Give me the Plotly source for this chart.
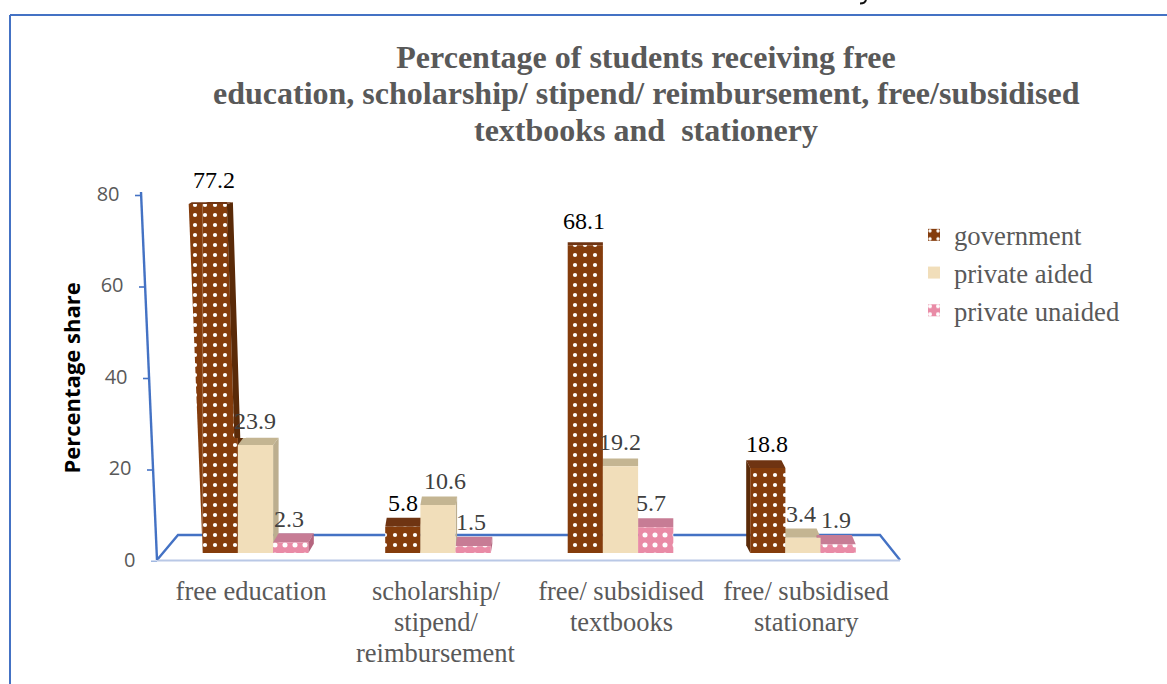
import plotly.graph_objects as go

W, H = 1167, 684
categories = ["free education", "scholarship/<br>stipend/<br>reimbursement",
              "free/ subsidised<br>textbooks", "free/ subsidised<br>stationary"]
government = [77.2, 5.8, 68.1, 18.8]
private_aided = [23.9, 10.6, 19.2, 3.4]
private_unaided = [2.3, 1.5, 5.7, 1.9]
y_ticks = [0, 20, 40, 60, 80]
title_lines = ["Percentage of students receiving free",
               "education, scholarship/ stipend/ reimbursement, free/subsidised",
               "textbooks and  stationery"]

SERIF = "Liberation Serif"
SANS = "Open Sans"
BLUE = "#4472c4"
BASE_PX, PX_PER_UNIT = 553.0, 4.52
AXIS0_PX, AXIS_PX_PER_UNIT = 561.5, 4.575
GROUP_X0_PX, GROUP_PX = 255.5, 182.5
BAR_PX = 35.2
BOTTOM_FRAC = 1 - AXIS0_PX / H


def xu(px):
    return (px - GROUP_X0_PX) / GROUP_PX


def dyu(px):
    return px / PX_PER_UNIT


def pxx(px):
    return px / W


def pxy(py):
    return 1 - py / H


x = list(range(len(categories)))
series = [
    ("government", government, "#843c0c", "#5a2a08", "#6f3412", ".", "#ffffff", 10, 0.14),
    ("private aided", private_aided, "#f1deba", "#bcae8f", "#c4b592", "", "#ffffff", 8, 0.2),
    ("private unaided", private_unaided, "#e98ba6", "#b5657f", "#c77c95", ".", "#ffffff", 10, 0.2),
]
group_side_dx = [5.5, 1.5, 0.0, -4.0]

fig = go.Figure()
shapes = []

# floor and wall of the 3D box
floor_back = f"M {pxx(157)},{pxy(560)} L {pxx(178)},{pxy(535)} L {pxx(880)},{pxy(535)} L {pxx(900)},{pxy(560)}"
shapes.append(dict(type="path", path=floor_back, xref="paper", yref="paper", line=dict(color=BLUE, width=2.4), layer="below"))
shapes.append(dict(type="line", xref="paper", yref="paper", x0=pxx(157), x1=pxx(900), y0=pxy(560.5), y1=pxy(560.5),
                   line=dict(color="#b9c8e6", width=2), layer="below"))
shapes.append(dict(type="line", xref="paper", yref="paper", x0=pxx(141), x1=pxx(157), y0=pxy(192), y1=pxy(560),
                   line=dict(color=BLUE, width=2.4), layer="below"))


def wall_x(tick):
    return 157 - 16 * tick / 80.0


for t in y_ticks:
    shapes.append(dict(type="line", xref="paper", yref="y2", x0=pxx(wall_x(t) - 6), x1=pxx(wall_x(t)), y0=t, y1=t,
                       line=dict(color=BLUE, width=1.6), layer="below"))

# frame
shapes.append(dict(type="line", xref="paper", yref="paper", x0=pxx(10), x1=1, y0=pxy(15), y1=pxy(15),
                   line=dict(color=BLUE, width=1.8), layer="below"))
shapes.append(dict(type="line", xref="paper", yref="paper", x0=pxx(10), x1=pxx(10), y0=pxy(15), y1=0,
                   line=dict(color=BLUE, width=2), layer="below"))

# small dark speck at the top edge of the picture (remnant of cropped content)
shapes.append(dict(type="path", xref="paper", yref="paper", layer="below", line=dict(color="#111111", width=2),
                   path=f"M {pxx(866)},{pxy(0)} Q {pxx(865)},{pxy(3.5)} {pxx(860)},{pxy(3.5)}"))

# bar top and side faces
for s_i, (name, vals, col, side, top, pat, fg, size, sol) in enumerate(series):
    for g, v in zip(x, vals):
        cx = GROUP_X0_PX + g * GROUP_PX + (s_i - 1) * BAR_PX
        l, r = cx - BAR_PX / 2, cx + BAR_PX / 2
        ddx = group_side_dx[g]
        ddy = 9.5 * (1 - v / 100)
        vb = v + dyu(ddy)
        shapes.append(dict(type="path", xref="x", yref="y", layer="below", line=dict(width=0), fillcolor=top,
                           path=f"M {xu(l)},{v} L {xu(r)},{v} L {xu(r + ddx)},{vb} L {xu(l + ddx)},{vb} Z"))
        if ddx > 0:
            shapes.append(dict(type="path", xref="x", yref="y", layer="below", line=dict(width=0), fillcolor=side,
                               path=f"M {xu(r)},0 L {xu(r)},{v} L {xu(r + ddx)},{vb} L {xu(r + ddx)},{dyu(ddy)} Z"))
        elif ddx < 0:
            shapes.append(dict(type="path", xref="x", yref="y", layer="below", line=dict(width=0), fillcolor=side,
                               path=f"M {xu(l)},0 L {xu(l)},{v} L {xu(l + ddx)},{vb} L {xu(l + ddx)},{dyu(ddy)} Z"))

for i, (name, vals, col, side, top, pat, fg, size, sol) in enumerate(series):
    marker = dict(color=col, line=dict(width=0))
    if pat:
        marker["pattern"] = dict(shape=pat, fgcolor=fg, bgcolor=col, size=size, solidity=sol, fillmode="replace")
    fig.add_trace(go.Bar(name=name, x=x, y=vals, marker=marker, legendgroup=name,
                         offsetgroup=str(i), hoverinfo="name+y"))

# perspective lean of the tallest bar (left wedge, and right-hand cut-back with side face)
v0 = government[0]
l0 = GROUP_X0_PX - 1.5 * BAR_PX
r0 = l0 + BAR_PX
lean_left, lean_right = 14.0 * v0 / 77.2, 11.0 * v0 / 77.2
v_cut = private_aided[0] + dyu(7)
frac = v_cut / v0
fig.add_trace(go.Scatter(
    x=[xu(l0), xu(l0 - lean_left), xu(l0), xu(l0)], y=[0, v0, v0, 0], mode="none", fill="toself",
    fillcolor="#843c0c", fillpattern=dict(shape=".", fgcolor="#ffffff", bgcolor="#843c0c", size=10, solidity=0.14, fillmode="replace"),
    showlegend=False, hoverinfo="skip"))
shapes.append(dict(type="path", xref="x", yref="y", layer="above", line=dict(width=0), fillcolor="#ffffff",
                   path=f"M {xu(r0 - lean_right)},{v0 + 1.5} L {xu(r0 + 8)},{v0 + 1.5} L {xu(r0 + 8)},{v_cut} L {xu(r0 - lean_right * frac)},{v_cut} Z"))
shapes.append(dict(type="path", xref="x", yref="y", layer="above", line=dict(width=0), fillcolor="#5a2a08",
                   path=f"M {xu(r0 - lean_right)},{v0} L {xu(r0 - lean_right + 6)},{v0 + 0.4} L {xu(r0 - lean_right * frac + 6)},{v_cut} L {xu(r0 - lean_right * frac)},{v_cut} Z"))
shapes.append(dict(type="path", xref="x", yref="y", layer="above", line=dict(width=0), fillcolor="#6f3412",
                   path=f"M {xu(l0 - lean_left)},{v0} L {xu(r0 - lean_right)},{v0} L {xu(r0 - lean_right + 6)},{v0 + 0.4} L {xu(l0 - lean_left + 3)},{v0 + 0.4} Z"))

# slanted y-axis tick labels
fig.add_trace(go.Scatter(
    x=[xu(wall_x(t) - 21.5) for t in y_ticks], y=y_ticks, yaxis="y2", mode="text", cliponaxis=False,
    text=[str(t) for t in y_ticks], textposition="middle left",
    textfont=dict(family=SANS, size=20, color="#595959"), showlegend=False, hoverinfo="skip"))

# value labels
label_dx = [[-6, 0, -1, -1], [-1, 7, -1, -2], [-2, -2, -5, -2]]
label_col = ["#000000", "#404040", "#404040"]
annotations = []
for i, (name, vals, *_rest) in enumerate(series):
    for g, v in zip(x, vals):
        annotations.append(dict(x=g + (i - 1) * BAR_PX / GROUP_PX, y=v, xref="x", yref="y", text=f"{v:.1f}",
                                showarrow=False, xshift=label_dx[i][g], yshift=24, yanchor="middle",
                                font=dict(family=SERIF, size=24, color=label_col[i])))
annotations.append(dict(x=pxx(70.5), y=pxy(378), xref="paper", yref="paper", text="<b>Percentage share</b>", textangle=-90,
                        xanchor="center", yanchor="middle",
                        showarrow=False, font=dict(family=SANS, size=22, color="#000000")))

# title lines 2 and 3 (tighter line spacing than a plain line break gives)
for line, y_px in zip(title_lines[1:], [93, 130]):
    annotations.append(dict(x=646 / W, y=pxy(y_px), xref="paper", yref="paper", text=f"<b>{line}</b>",
                            xanchor="center", yanchor="middle", showarrow=False,
                            font=dict(family=SERIF, size=32, color="#595959")))

# category labels: first line on the axis, further lines at the reference's tighter spacing
TICK_X0_PX, TICK_STEP_PX = 251.0, 185.0
tick_vals = [xu(TICK_X0_PX + g * TICK_STEP_PX) for g in x]
first_lines = [c.split("<br>")[0] for c in categories]
for g, c in zip(x, categories):
    for k, part in enumerate(c.split("<br>")[1:], start=1):
        annotations.append(dict(x=tick_vals[g], y=pxy(591 + 31 * k), xref="x", yref="paper", text=part,
                                xanchor="center", yanchor="middle", showarrow=False,
                                font=dict(family=SERIF, size=26.5, color="#595959")))

fig.update_layout(
    width=W, height=H, autosize=False, margin=dict(l=0, r=0, t=0, b=0),
    paper_bgcolor="white", plot_bgcolor="white",
    barmode="group", bargap=1 - 3 * BAR_PX / GROUP_PX, bargroupgap=0,
    title=dict(text=title_lines[0], x=646 / W, xanchor="center", y=pxy(57), yanchor="middle",
               font=dict(family=SERIF, size=32, color="#595959", weight="bold")),
    xaxis=dict(range=[xu(0), xu(W)], domain=[0, 1], tickmode="array", tickvals=tick_vals, ticktext=first_lines,
               tickfont=dict(family=SERIF, size=26.5, color="#595959"), ticks="outside", ticklen=5.5,
               tickcolor="rgba(0,0,0,0)", showgrid=False, zeroline=False, showline=False),
    yaxis=dict(domain=[BOTTOM_FRAC, 1], range=[(BASE_PX - AXIS0_PX) / PX_PER_UNIT, BASE_PX / PX_PER_UNIT],
               visible=False, showgrid=False, zeroline=False),
    yaxis2=dict(domain=[BOTTOM_FRAC, 1], range=[0, AXIS0_PX / AXIS_PX_PER_UNIT], overlaying="y", visible=False,
                showgrid=False, zeroline=False),
    legend=dict(x=pxx(914), y=pxy(211), xanchor="left", yanchor="top", traceorder="normal", tracegroupgap=10,
                font=dict(family=SERIF, size=26.7, color="#595959"), bgcolor="rgba(0,0,0,0)", itemwidth=30),
    shapes=shapes, annotations=annotations,
)

fig.write_html("out.html", config={"displayModeBar": False},
               post_script="document.body.style.margin='0';document.body.style.overflow='hidden';")
